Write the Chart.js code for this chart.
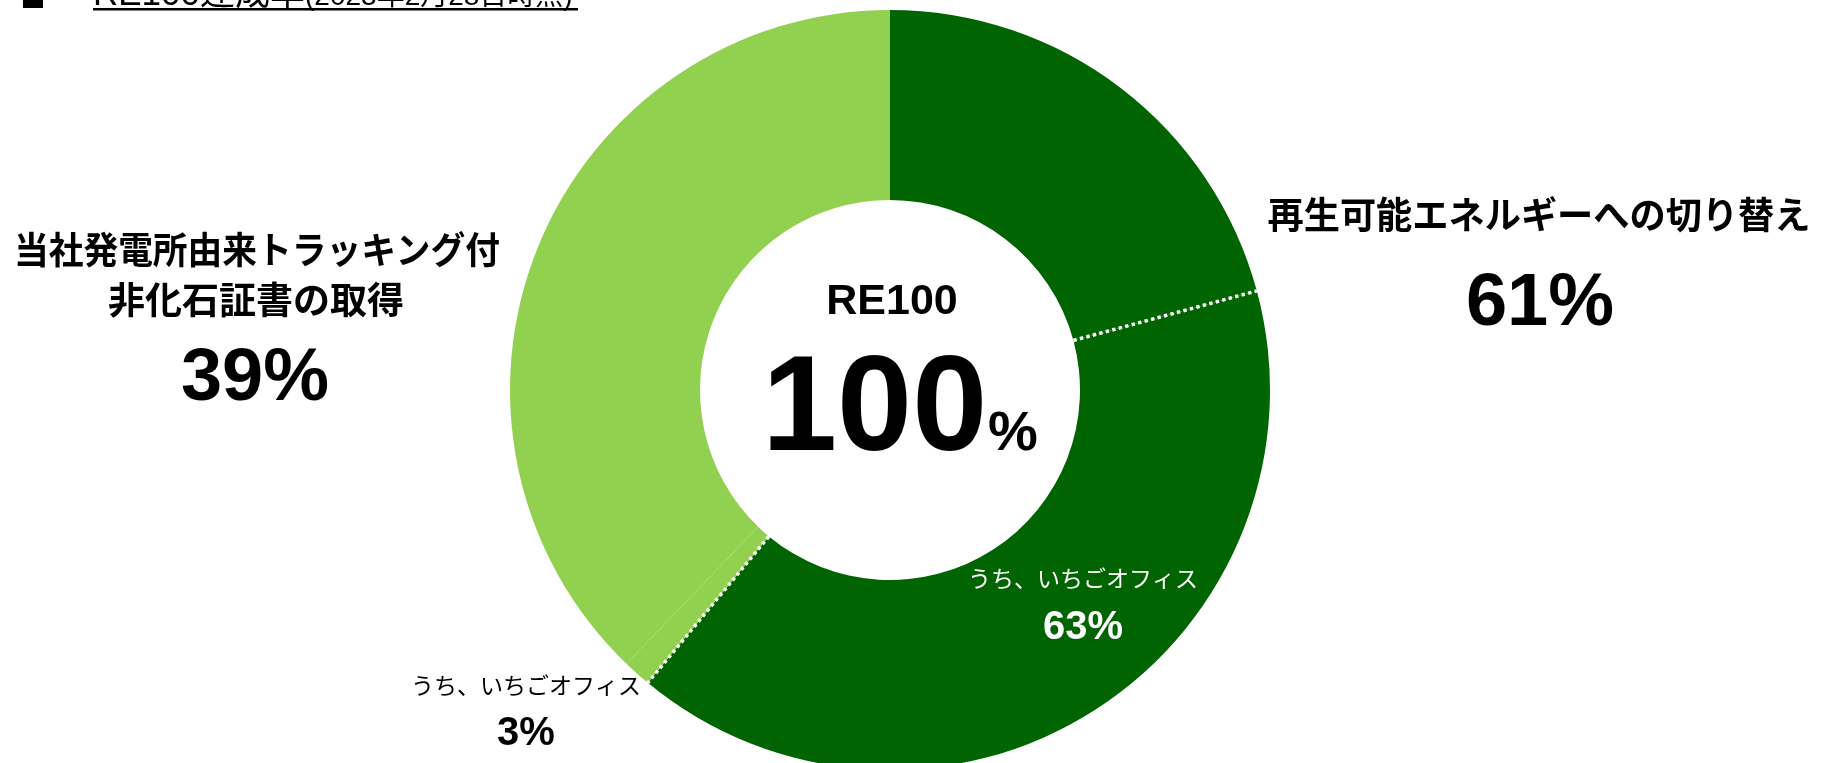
<!DOCTYPE html>
<html>
<head>
<meta charset="utf-8">
<script src="https://cdn.jsdelivr.net/npm/chart.js@4.4.1/dist/chart.umd.min.js"></script>
<style>
  html, body { margin: 0; padding: 0; background: #fff; overflow: hidden; }
  #wrap { position: relative; width: 1832px; height: 763px; overflow: hidden; }
  #re100-chart { position: absolute; left: 0; top: 0; }
</style>
</head>
<body>
<div id="wrap"><canvas id="re100-chart" width="1832" height="780"></canvas></div>
<script>
// segments, clockwise from the top
const segments = ["再エネ切り替え（その他）", "再エネ切り替え（うち、いちごオフィス）", "非化石証書（うち、いちごオフィス）", "非化石証書（その他）"];
const shares = [20.8, 40.2, 1.2, 37.8];
const segmentColors = ["#006400", "#006400", "#92D050", "#92D050"];
// segments whose starting edge gets a white dotted divider
const dottedEdges = [1, 2];

const labelFont = "'Liberation Sans', 'Noto Sans CJK JP', sans-serif";

function txt(ctx, s, x, y, size, bold, color, maxW) {
  ctx.font = (bold ? "bold " : "") + size + "px " + labelFont;
  ctx.fillStyle = color || "#000";
  ctx.textAlign = "center";
  ctx.textBaseline = "middle";
  if (maxW) ctx.fillText(s, x, y, maxW);
  else ctx.fillText(s, x, y);
}

const dividers = {
  id: "dividers",
  afterDatasetsDraw: (chart) => {
    const ctx = chart.ctx;
    const arcs = chart.getDatasetMeta(0).data;
    ctx.save();
    ctx.strokeStyle = "#fff";
    ctx.lineWidth = 3.5;
    ctx.setLineDash([3.4, 3.3]);
    dottedEdges.forEach((i) => {
      const a = arcs[i];
      const ang = a.startAngle;
      ctx.beginPath();
      ctx.moveTo(a.x + Math.cos(ang) * a.innerRadius, a.y + Math.sin(ang) * a.innerRadius);
      ctx.lineTo(a.x + Math.cos(ang) * a.outerRadius, a.y + Math.sin(ang) * a.outerRadius);
      ctx.stroke();
    });
    ctx.restore();
  },
};

const labels = {
  id: "labels",
  afterDraw: (chart) => {
    const ctx = chart.ctx;
    ctx.save();

    // title (cut at the top edge)
    ctx.fillStyle = "#000";
    ctx.fillRect(23, -12, 20, 20);
    ctx.font = "35px " + labelFont;
    ctx.textAlign = "left";
    ctx.textBaseline = "alphabetic";
    ctx.fillText("RE100達成率", 93, 5);
    const w1 = ctx.measureText("RE100達成率").width;
    ctx.font = "28px " + labelFont;
    ctx.fillText("(2023年2月28日時点)", 93 + w1, 5, 578 - 93 - w1);
    ctx.fillRect(93, 8, 485, 2.5);

    // centre
    txt(ctx, "RE100", 892, 302, 43, true);
    ctx.font = "bold 135px " + labelFont;
    ctx.textAlign = "left";
    ctx.textBaseline = "alphabetic";
    ctx.fillText("100", 762, 450);
    ctx.font = "bold 56px " + labelFont;
    ctx.fillText("%", 988, 450);

    // right
    txt(ctx, "再生可能エネルギーへの切り替え", 1539, 219, 37, true, "#000", 543);
    txt(ctx, "61%", 1540, 305, 74, true);

    // left
    txt(ctx, "当社発電所由来トラッキング付", 257, 254, 37, true, "#000", 486);
    txt(ctx, "非化石証書の取得", 256, 304, 37, true);
    txt(ctx, "39%", 255, 380, 74, true);

    // inner notes
    txt(ctx, "うち、いちごオフィス", 1083, 581, 23, false, "#fff");
    txt(ctx, "63%", 1083, 628, 40, true, "#fff");
    txt(ctx, "うち、いちごオフィス", 526, 688, 23, false, "#000");
    txt(ctx, "3%", 526, 734, 40, true, "#000");

    ctx.restore();
  },
};

new Chart(document.getElementById("re100-chart"), {
  type: "doughnut",
  data: {
    labels: segments,
    datasets: [{
      data: shares,
      backgroundColor: segmentColors,
      borderWidth: 0,
    }],
  },
  options: {
    responsive: false,
    animation: false,
    cutout: "50%",
    layout: {
      padding: { left: 510, right: 562, top: 10, bottom: 10 },
    },
    plugins: {
      legend: { display: false },
      tooltip: { enabled: false },
    },
  },
  plugins: [dividers, labels],
});
</script>
</body>
</html>
